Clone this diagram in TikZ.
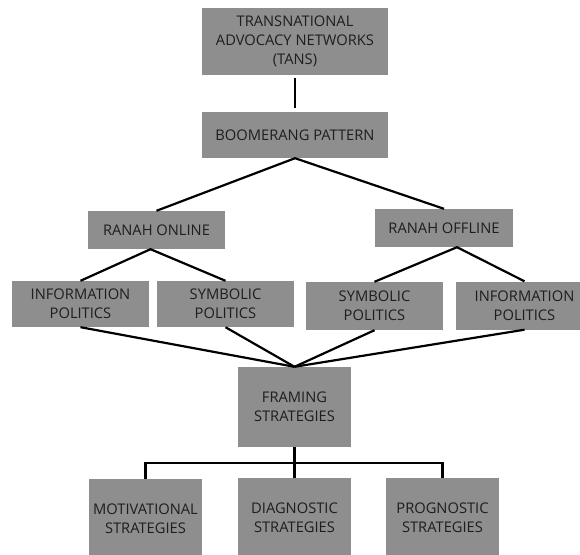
\documentclass[tikz,border=0pt]{standalone}
\usepackage{fontspec}
\setmainfont{Open Sans}
\usepackage{tikz}
\usepackage[dvipsnames]{xcolor}
\definecolor{boxgray}{HTML}{8E8E8E}
\definecolor{textgray}{HTML}{1E1E1E}
\usetikzlibrary{positioning, arrows, shapes}
\tikzstyle{box} = [rectangle, fill=boxgray, text=textgray, align=center, inner sep=0pt, font=\fontsize{14.7}{19}\selectfont]
\tikzstyle{line} = [line width=2.2pt, black]

\begin{document}
\begin{tikzpicture}[x=1pt, y=-1pt]
                \useasboundingbox (0,0) rectangle (580,554);
                % top
                \node[box, minimum width=186pt, minimum height=67pt] (tans) at (295,41.5) {TRANSNATIONAL\\ADVOCACY NETWORKS\\(TANS)};
                \node[box, minimum width=186pt, minimum height=46pt] (boom) at (295,135) {BOOMERANG PATTERN};
                % ranah
                \node[box, minimum width=137pt, minimum height=38pt] (ronline) at (156.5,230) {RANAH ONLINE};
                \node[box, minimum width=138pt, minimum height=38pt] (roffline) at (444,228) {RANAH OFFLINE};
                % politics
                \node[box, minimum width=137pt, minimum height=46pt] (infol) at (80.5,304) {INFORMATION\\POLITICS};
                \node[box, minimum width=137pt, minimum height=46pt] (syml) at (225.5,304) {SYMBOLIC\\POLITICS};
                \node[box, minimum width=137pt, minimum height=48pt] (symr) at (374.5,306) {SYMBOLIC\\POLITICS};
                \node[box, minimum width=137pt, minimum height=48pt] (infor) at (524.5,305.5) {INFORMATION\\POLITICS};
                % strategies
                \node[box, minimum width=113pt, minimum height=80pt] (framing) at (294.5,407) {FRAMING\\STRATEGIES};
                \node[box, minimum width=113pt, minimum height=80pt] (motiv) at (145.5,519) {MOTIVATIONAL\\STRATEGIES};
                \node[box, minimum width=113pt, minimum height=80pt] (diag) at (294.5,518) {DIAGNOSTIC\\STRATEGIES};
                \node[box, minimum width=113pt, minimum height=80pt] (progn) at (442.5,518) {PROGNOSTIC\\STRATEGIES};

                \draw[line, shorten <=3pt, shorten >=4pt] (tans) -- (boom);
                \draw[line] (ronline.north) -- (boom.south) -- (roffline.north);
                \draw[line] (infol.north) -- ([xshift=-6pt]ronline.south) -- (syml.north);
                \draw[line] (symr.north) -- ([xshift=13pt]roffline.south) -- (infor.north);
                \draw[line] (infol.south) -- (framing.north);
                \draw[line] (syml.south) -- (framing.north);
                \draw[line] (symr.south) -- (framing.north);
                \draw[line] (infor.south) -- (framing.north);
                \draw[line] (framing.south) -- ++(0,16) coordinate (fork);
                \draw[line] (motiv.north) |- (fork) -| (progn.north);
                \draw[line] (fork) -- (diag.north);
              \end{tikzpicture}
\end{document}
